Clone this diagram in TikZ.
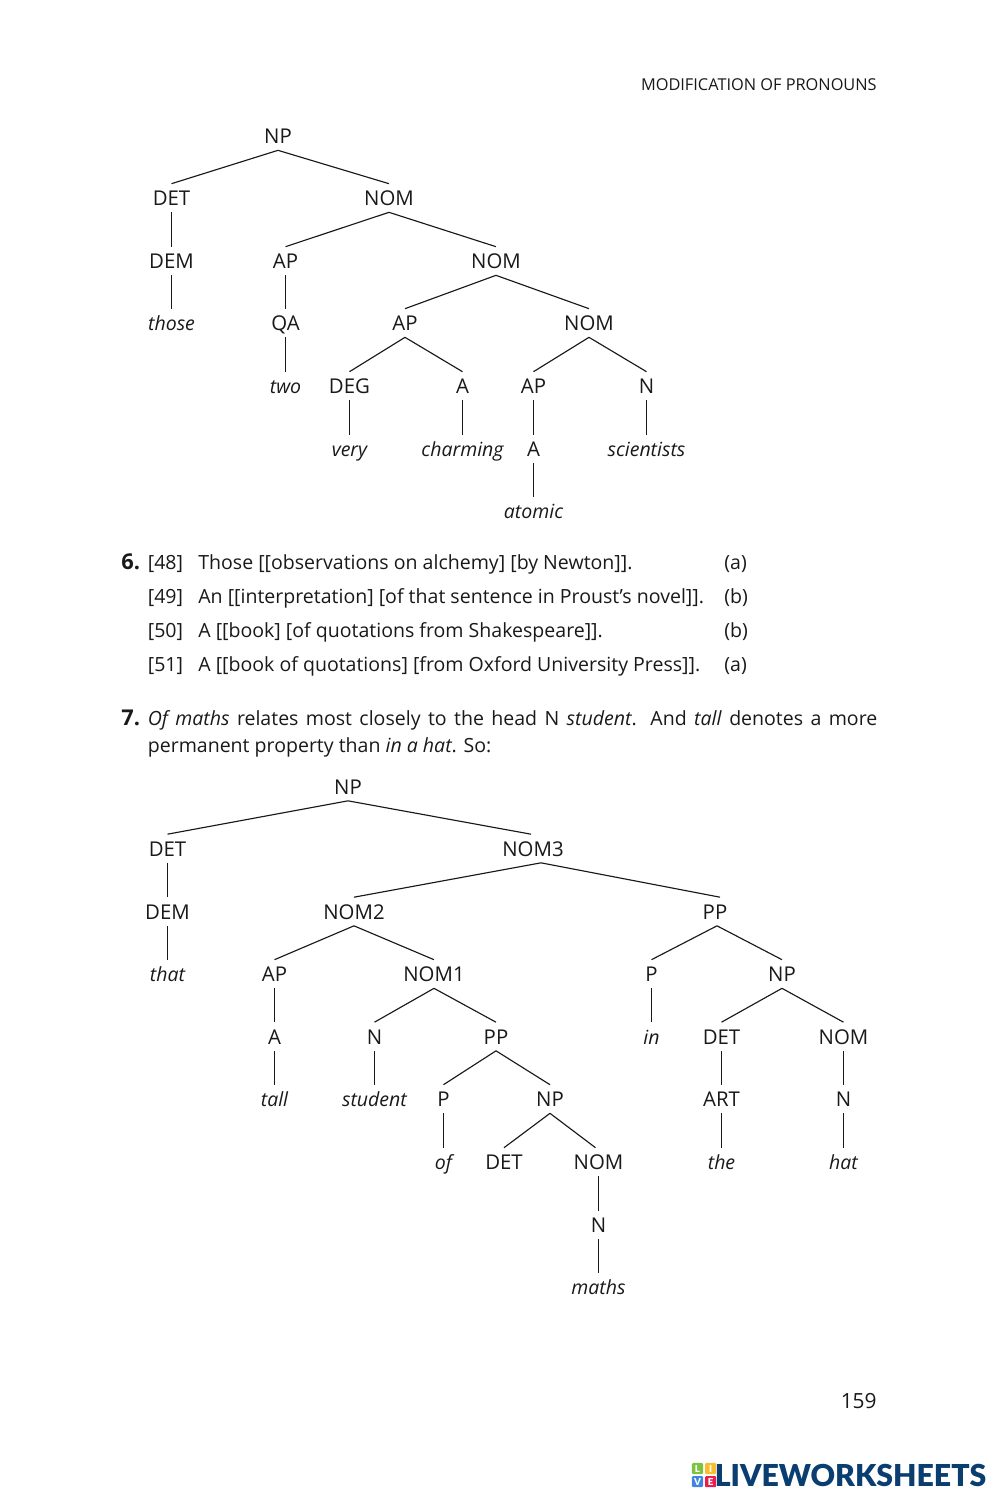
\documentclass[tikz,border=0pt]{standalone}
\usepackage{fontspec}
\setmainfont{Open Sans}
\newfontfamily\logofont{Lato Black}
\usepackage{xcolor}
\usetikzlibrary{positioning}
\definecolor{inkgrey}{RGB}{25, 25, 25}
\definecolor{logonavy}{RGB}{10, 62, 112}
\definecolor{tilegreen}{RGB}{126, 194, 66}
\definecolor{tileyellow}{RGB}{247, 190, 45}
\definecolor{tileblue}{RGB}{66, 133, 224}
\definecolor{tilered}{RGB}{232, 30, 80}
\tikzset{
    cat/.style={inner sep=0pt,text height=12.4pt,text depth=3.5pt,text=inkgrey,font=\fontsize{11.6}{12}\selectfont},
    word/.style={cat,font=\fontsize{11.1}{12}\selectfont\itshape},
    branch/.style={draw=inkgrey,line width=0.65pt},
    body/.style={anchor=base west,inner sep=0pt,text=inkgrey,font=\fontsize{11.12}{12}\selectfont},
    tile/.style={inner sep=0pt,minimum size=6.3pt,rounded corners=0.6pt,text=white,font=\logofont\fontsize{5.5}{6}\selectfont}
}
\begin{document}
\begin{tikzpicture}[x=0.02cm,y=-0.02cm]
    \useasboundingbox (0,0) rectangle (999,1499);
    \node[body,anchor=base east,font=\fontsize{9.3}{10}\selectfont] (header) at (877,90) {MODIFICATION OF PRONOUNS};

    % First tree
    \node[cat] (a1) at (278,136) {NP};
    \node[cat] (a2) at (171.5,198) {DET};
    \node[cat] (a3) at (389,198) {NOM};
    \node[cat] (a4) at (171.5,261) {DEM};
    \node[cat] (a5) at (285.5,261) {AP};
    \node[cat] (a6) at (496,261) {NOM};
    \node[word] (a7) at (171.5,323) {those};
    \node[cat] (a8) at (285.5,323) {QA};
    \node[cat] (a9) at (405,323) {AP};
    \node[cat] (a10) at (589,323) {NOM};
    \node[word] (a11) at (285.5,386) {two};
    \node[cat] (a12) at (349.5,386) {DEG};
    \node[cat] (a13) at (462.5,386) {A};
    \node[cat] (a14) at (533.5,386) {AP};
    \node[cat] (a15) at (646.5,386) {N};
    \node[word] (a16) at (349.5,449) {very};
    \node[word] (a17) at (462.5,449) {charming};
    \node[cat] (a18) at (533.5,449) {A};
    \node[word] (a19) at (646.5,449) {scientists};
    \node[word] (a20) at (533.5,511) {atomic};
    \foreach \from/\to in {a1/a2,a1/a3,a2/a4,a4/a7,a3/a5,a3/a6,a5/a8,a8/a11,a6/a9,a6/a10,a9/a12,a9/a13,a12/a16,a13/a17,a10/a14,a10/a15,a14/a18,a18/a20,a15/a19}
        \draw[branch] (\from.south) -- (\to.north);

    % Answers to exercise 6
    \node[body,font=\fontsize{12.4}{14}\selectfont\bfseries] (six) at (121,569) {6.};
    \node[body] (n48) at (147.5,569) {[48]};
    \node[body] (s48) at (198,569) {Those [[observations on alchemy] [by Newton]].};
    \node[body] (r48) at (724,569) {(a)};
    \node[body] (n49) at (147.5,603) {[49]};
    \node[body] (s49) at (198,603) {An [[interpretation] [of that sentence in Proust’s novel]].};
    \node[body] (r49) at (724,603) {(b)};
    \node[body] (n50) at (147.5,637) {[50]};
    \node[body] (s50) at (198,637) {A [[book] [of quotations from Shakespeare]].};
    \node[body] (r50) at (724,637) {(b)};
    \node[body] (n51) at (147.5,671) {[51]};
    \node[body] (s51) at (198,671) {A [[book of quotations] [from Oxford University Press]].};
    \node[body] (r51) at (724,671) {(a)};

    % Answer to exercise 7
    \node[body,font=\fontsize{12.4}{14}\selectfont\bfseries] (seven) at (121,725) {7.};
    \node[body,text width=415.2pt,align=justify,font=\fontsize{11.12}{15.4}\selectfont] (para) at (147.5,725)
        {\hyphenpenalty=10000 \textit{Of maths} relates most closely to the head N \textit{student}. And \textit{tall} denotes a more permanent property than \textit{in a hat}. So:};

    % Second tree
    \node[cat] (b1) at (348,786.5) {NP};
    \node[cat] (b2) at (167.5,848.5) {DET};
    \node[cat] (b3) at (533,848.5) {NOM3};
    \node[cat] (b4) at (167.5,911.5) {DEM};
    \node[cat] (b5) at (354,911.5) {NOM2};
    \node[cat] (b6) at (715,911.5) {PP};
    \node[word] (b7) at (167.5,974) {that};
    \node[cat] (b8) at (274.5,974) {AP};
    \node[cat] (b9) at (434,974) {NOM1};
    \node[cat] (b10) at (651.5,974) {P};
    \node[cat] (b11) at (782,974) {NP};
    \node[cat] (b12) at (274.5,1036.5) {A};
    \node[cat] (b13) at (374.5,1036.5) {N};
    \node[cat] (b14) at (496,1036.5) {PP};
    \node[word] (b15) at (651.5,1036.5) {in};
    \node[cat] (b16) at (721.5,1036.5) {DET};
    \node[cat] (b17) at (843.5,1036.5) {NOM};
    \node[word] (b18) at (274.5,1099) {tall};
    \node[word] (b19) at (374.5,1099) {student};
    \node[cat] (b20) at (443.5,1099) {P};
    \node[cat] (b21) at (550,1099) {NP};
    \node[cat] (b22) at (721.5,1099) {ART};
    \node[cat] (b23) at (843.5,1099) {N};
    \node[word] (b24) at (443.5,1162) {of};
    \node[cat] (b25) at (504,1162) {DET};
    \node[cat] (b26) at (598.5,1162) {NOM};
    \node[word] (b27) at (721.5,1162) {the};
    \node[word] (b28) at (843.5,1162) {hat};
    \node[cat] (b29) at (598.5,1225) {N};
    \node[word] (b30) at (598.5,1287) {maths};
    \coordinate (b3in) at ([xshift=-0.04cm]b3.north);
    \coordinate (b3fork) at ([xshift=0.16cm]b3.south);
    \coordinate (b6in) at ([xshift=0.1cm]b6.north);
    \coordinate (b6fork) at ([xshift=0.04cm]b6.south);
    \coordinate (b26in) at ([xshift=-0.06cm]b26.north);
    \foreach \from/\to in {b2/b4,b4/b7,b5/b8,b5/b9,b8/b12,b12/b18,b9/b13,b9/b14,b13/b19,b14/b20,b14/b21,b20/b24,b21/b25,b26/b29,b29/b30,b10/b15,b11/b16,b11/b17,b16/b22,b22/b27,b17/b23,b23/b28}
        \draw[branch] (\from.south) -- (\to.north);
    \draw[branch] (b1.south) -- (b2.north);
    \draw[branch] (b1.south) -- (b3in);
    \draw[branch] (b3fork) -- (b5.north);
    \draw[branch] (b3fork) -- (b6in);
    \draw[branch] (b6fork) -- (b10.north);
    \draw[branch] (b6fork) -- (b11.north);
    \draw[branch] (b21.south) -- (b26in);

    \node[body,anchor=base east,font=\fontsize{11.9}{14}\selectfont] (folio) at (877,1408) {159};

    % Logo
    \node[tile,fill=tilegreen] (tl) at (697.5,1468.5) {L};
    \node[tile,fill=tileyellow,right=0.8pt of tl] (ti) {I};
    \node[tile,fill=tileblue,below=0.8pt of tl] (tv) {V};
    \node[tile,fill=tilered,right=0.8pt of tv] (te) {E};
    \node[body,text=logonavy,font=\logofont\fontsize{17.2}{18}\selectfont] (logo) at (714.5,1486) {LIVEWORKSHEETS};
\end{tikzpicture}
\end{document}
